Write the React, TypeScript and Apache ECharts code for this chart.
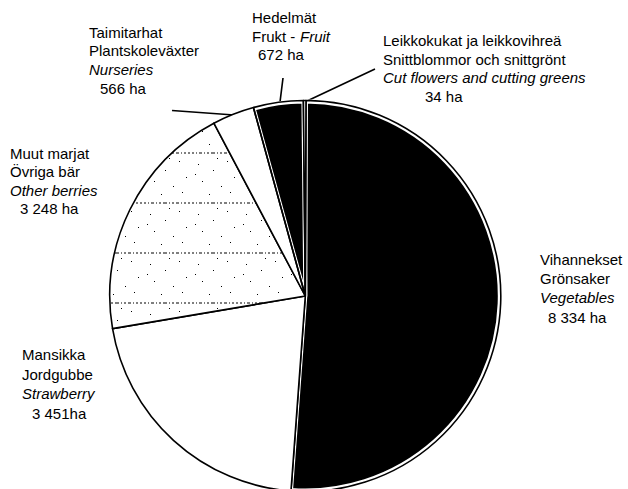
import React, { useEffect, useRef } from 'react';
import * as echarts from 'echarts';

// ---- data ----
const categoriesFi = ['Vihannekset', 'Mansikka', 'Muut marjat', 'Taimitarhat', 'Hedelmät', 'Leikkokukat ja leikkovihreä'];
const categoriesSv = ['Grönsaker', 'Jordgubbe', 'Övriga bär', 'Plantskoleväxter', 'Frukt', 'Snittblommor och snittgrönt'];
const categoriesEn = ['Vegetables', 'Strawberry', 'Other berries', 'Nurseries', 'Fruit', 'Cut flowers and cutting greens'];
const areaHa = [8334, 3451, 3248, 566, 672, 34];
const unitSep = [' ', '', ' ', ' ', ' ', ' '];
const unit = 'ha';

// ---- styles ----
const fills = ['black', 'white', 'dots', 'white', 'black', 'white'];
const FONT = '15px "Liberation Sans", Arial, sans-serif';
const FONT_I = 'italic 15px "Liberation Sans", Arial, sans-serif';

// label block layout: left x, value-line x, baselines
const blocks = [
  { i: 0, x: 540, vx: 548, b: [265, 284, 303, 322.5] },
  { i: 1, x: 22, vx: 32, b: [360, 379.5, 399, 418.5] },
  { i: 2, x: 10, vx: 20, b: [158.3, 176.8, 195.2, 214] },
  { i: 3, x: 89, vx: 100, b: [37.3, 56, 74.6, 93.8] },
  { i: 4, x: 252, vx: 258, b: [22.7, 41.3, 60] },
  { i: 5, x: 383, vx: 425, b: [46, 64.5, 83, 101.7] },
];

const leaders = [
  [172, 110.5, 234, 115],
  [283, 78, 280, 102],
  [375, 69, 307, 101],
];

function fmt(v: number) {
  return String(v).replace(/\B(?=(\d{3})+(?!\d))/g, ' ');
}

function makeDots(): HTMLCanvasElement {
  const c = document.createElement('canvas');
  c.width = 48;
  c.height = 50;
  const ctx = c.getContext('2d')!;
  ctx.fillStyle = '#fff';
  ctx.fillRect(0, 0, 48, 50);
  ctx.fillStyle = '#000';
  const dashes = [[0, 2], [4, 1], [7, 3], [12, 1], [15, 2], [19, 4], [25, 1], [28, 2], [32, 3], [37, 1], [40, 2], [44, 2]];
  dashes.forEach(([x, w]) => ctx.fillRect(x, 2.5, w, 1));
  const dots = [[6, 14], [21, 20], [35, 11], [10, 31], [29, 36], [42, 27], [17, 44], [3, 24], [38, 42], [25, 8]];
  dots.forEach(([x, y]) => ctx.fillRect(x, y, 1, 1));
  return c;
}

export default function App() {
  const ref = useRef<HTMLDivElement>(null);
  useEffect(() => {
    document.body.style.margin = '0';
    if (!ref.current) return;
    const chart = echarts.init(ref.current, undefined, { renderer: 'svg' });
    const dotCanvas = makeDots();

    const base = {
      type: 'pie',
      center: [305.3, 296],
      clockwise: true,
      startAngle: 89.8,
      silent: true,
      avoidLabelOverlap: false,
      label: { show: false },
      labelLine: { show: false },
      emphasis: { disabled: true },
    };

    const graphics: any[] = [];
    blocks.forEach((bk) => {
      const i = bk.i;
      const val = `${fmt(areaHa[i])}${unitSep[i]}${unit}`;
      const add = (text: string, x: number, base: number, font: string) =>
        graphics.push({
          type: 'text',
          x,
          y: base - 5.2,
          silent: true,
          style: { text, font, fill: '#000', verticalAlign: 'middle', align: 'left' },
        });
      add(categoriesFi[i], bk.x, bk.b[0], FONT);
      if (bk.b.length === 3) {
        add(`${categoriesSv[i]} - `, bk.x, bk.b[1], FONT);
        add(categoriesEn[i], bk.x + 48, bk.b[1], FONT_I);
        add(val, bk.vx, bk.b[2], FONT);
      } else {
        add(categoriesSv[i], bk.x, bk.b[1], FONT);
        add(categoriesEn[i], bk.x, bk.b[2], FONT_I);
        add(val, bk.vx, bk.b[3], FONT);
      }
    });
    leaders.forEach(([x1, y1, x2, y2]) =>
      graphics.push({
        type: 'line',
        silent: true,
        shape: { x1, y1, x2, y2 },
        style: { stroke: '#000', lineWidth: 1.6 },
      })
    );

    chart.setOption({
      animation: false,
      backgroundColor: '#fff',
      series: [
        {
          ...base,
          radius: [0, 194.5],
          data: areaHa.map((v, i) => ({
            value: v,
            name: categoriesEn[i],
            itemStyle:
              fills[i] === 'black'
                ? { color: '#000', borderColor: '#fff', borderWidth: 4, borderJoin: 'round' }
                : { color: 'rgba(0,0,0,0)', borderWidth: 0 },
          })),
        },
        {
          ...base,
          radius: [0, 195.5],
          data: areaHa.map((v, i) => ({
            value: v,
            name: categoriesEn[i],
            itemStyle: {
              color:
                fills[i] === 'black'
                  ? 'rgba(0,0,0,0)'
                  : fills[i] === 'dots'
                  ? { image: dotCanvas, repeat: 'repeat' }
                  : '#fff',
              borderColor: '#000',
              borderWidth: 1.6,
              borderJoin: 'round',
            },
          })),
        },
      ],
      graphic: graphics,
    });
    return () => chart.dispose();
  }, []);
  return <div ref={ref} style={{ width: 628, height: 489 }} />;
}
